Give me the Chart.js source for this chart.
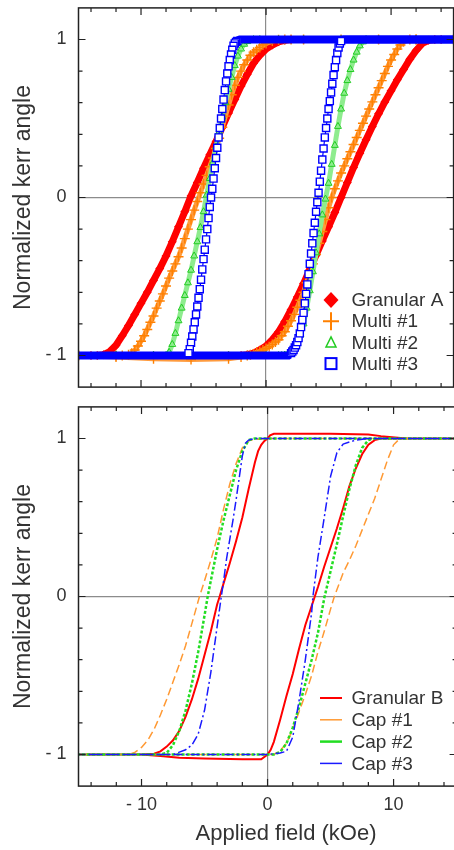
<!DOCTYPE html>
<html><head><meta charset="utf-8">
<script src="https://cdn.jsdelivr.net/npm/chart.js@4.4.1/dist/chart.umd.min.js"></script>
<style>
html,body{margin:0;padding:0;background:#fff;overflow:hidden;}
#wrap{position:relative;width:454px;height:850px;overflow:hidden;background:#fff;}
canvas{position:absolute;left:0;}
#c1{top:0;} #c2{top:396px;}
</style></head><body>
<div id="wrap"><canvas id="c1" width="460" height="396"></canvas><canvas id="c2" width="460" height="454"></canvas></div>
<script>
// ---------- Top panel data (applied field kOe, normalized kerr angle) ----------
const topLabels = ['Granular A', 'Multi #1', 'Multi #2', 'Multi #3'];
const granA_downH = [15,12,9,6,3,2,1.5,1,0.5,0,-0.5,-1,-1.5,-2,-2.5,-3,-3.5,-4,-4.5,-5,-5.5,-6,-6.5,-7,-7.5,-8,-8.5,-9,-9.5,-10,-10.5,-11,-11.5,-12,-12.5,-13,-13.5,-14,-15];
const granA_downM = [1,1,1,1,1,1.0,0.995,0.985,0.965,0.94,0.9,0.85,0.78,0.705,0.62,0.535,0.445,0.355,0.27,0.185,0.095,0.01,-0.09,-0.185,-0.28,-0.37,-0.45,-0.525,-0.6,-0.67,-0.74,-0.81,-0.875,-0.935,-0.975,-0.995,-1.0,-1,-1];
const granA_upH = [-15,-12,-9,-6,-3,-2,-1.5,-1,-0.5,0,0.5,1,1.5,2,2.5,3,3.5,4,4.5,5,5.5,6,6.5,7,7.5,8,8.5,9,9.5,10,10.5,11,11.5,12,12.5,13,13.5,14,15];
const granA_upM = [-1,-1,-1,-1,-1,-1.0,-0.995,-0.985,-0.965,-0.94,-0.9,-0.85,-0.785,-0.71,-0.63,-0.545,-0.455,-0.365,-0.275,-0.185,-0.095,0.0,0.095,0.19,0.28,0.365,0.45,0.53,0.605,0.675,0.745,0.81,0.875,0.93,0.975,0.995,1.0,1,1];

const multi1_downH = [15,12,9,6,3,2,1.5,1,0.5,0,-0.25,-0.5,-0.75,-1,-1.25,-1.5,-1.75,-2,-2.25,-2.5,-2.75,-3,-3.25,-3.5,-3.75,-4,-4.25,-4.5,-4.75,-5,-5.25,-5.5,-5.75,-6,-6.25,-6.5,-6.75,-7,-7.25,-7.5,-7.75,-8,-8.25,-8.5,-8.75,-9,-9.25,-9.5,-9.75,-10,-10.25,-10.5,-10.75,-11,-11.5,-12,-15];
const multi1_downM = [1,1,1,1,1,1,1.0,0.998,0.99,0.975,0.965,0.95,0.935,0.92,0.9,0.87,0.84,0.80,0.76,0.71,0.65,0.585,0.515,0.445,0.375,0.31,0.25,0.195,0.14,0.085,0.03,-0.025,-0.08,-0.14,-0.2,-0.26,-0.32,-0.375,-0.42,-0.465,-0.51,-0.56,-0.61,-0.655,-0.70,-0.75,-0.79,-0.835,-0.875,-0.91,-0.94,-0.965,-0.985,-0.995,-1,-1,-1];
const multi1_upH = [-15,-12,-9,-6,-3,-2,-1.5,-1.25,-1,-0.75,-0.5,-0.25,0,0.25,0.5,0.75,1,1.25,1.5,1.75,2,2.25,2.5,2.75,3,3.25,3.5,3.75,4,4.25,4.5,4.75,5,5.25,5.5,5.75,6,6.25,6.5,6.75,7,7.25,7.5,7.75,8,8.25,8.5,8.75,9,9.25,9.5,9.75,10,10.25,10.5,10.75,11,11.5,12,15];
const multi1_upM = [-1.0,-1.01,-1.02,-1.025,-1.02,-1.01,-1.0,-0.995,-0.99,-0.98,-0.975,-0.965,-0.955,-0.945,-0.93,-0.915,-0.9,-0.875,-0.85,-0.815,-0.78,-0.74,-0.695,-0.65,-0.6,-0.54,-0.48,-0.42,-0.36,-0.29,-0.215,-0.14,-0.065,0.0,0.055,0.105,0.155,0.2,0.245,0.29,0.335,0.38,0.425,0.47,0.515,0.56,0.605,0.65,0.695,0.74,0.785,0.83,0.87,0.905,0.94,0.965,0.985,1,1,1];

const multi2_downH = [15,12,9,6,3,1,-0.5,-1,-1.25,-1.5,-1.75,-2,-2.25,-2.5,-2.75,-3,-3.25,-3.5,-3.75,-4,-4.25,-4.5,-4.75,-5,-5.25,-5.5,-5.75,-6,-6.25,-6.5,-6.75,-7,-7.25,-7.5,-7.75,-8,-9,-12,-15];
const multi2_downM = [1,1,1,1,1,1,1,1.0,0.995,0.987,0.97,0.94,0.895,0.835,0.76,0.685,0.60,0.51,0.415,0.32,0.22,0.12,0.015,-0.09,-0.19,-0.28,-0.37,-0.46,-0.54,-0.62,-0.70,-0.78,-0.86,-0.93,-0.98,-1.0,-1,-1,-1];
const multi2_upH = [-15,-12,-9,-6,-3,0,1,1.25,1.5,1.75,2,2.25,2.5,2.75,3,3.25,3.5,3.75,4,4.25,4.5,4.75,5,5.25,5.5,5.75,6,6.25,6.5,6.75,7,7.25,7.5,7.75,8,9,12,15];
const multi2_upM = [-1,-1,-1,-1,-1,-1,-1,-1.0,-0.997,-0.99,-0.98,-0.96,-0.925,-0.87,-0.80,-0.70,-0.59,-0.47,-0.35,-0.23,-0.11,-0.01,0.09,0.21,0.33,0.45,0.56,0.66,0.74,0.81,0.87,0.92,0.96,0.985,1.0,1,1,1];

const multi3_downH = [15,12,9,6,3,0,-1,-2,-2.1,-2.2,-2.3,-2.4,-2.5,-2.6,-2.7,-2.8,-2.9,-3,-3.1,-3.2,-3.3,-3.4,-3.5,-3.6,-3.7,-3.8,-3.9,-4,-4.1,-4.2,-4.3,-4.4,-4.5,-4.6,-4.7,-4.8,-4.9,-5,-5.1,-5.2,-5.3,-5.4,-5.5,-5.6,-5.7,-5.8,-5.9,-6,-6.1,-6.2,-6.3,-6.4,-6.6,-8,-10,-12,-15];
const multi3_downM = [1,1,1,1,1,1,1,1,1.0,0.997,0.99,0.985,0.975,0.96,0.935,0.905,0.87,0.83,0.785,0.735,0.68,0.62,0.56,0.50,0.44,0.38,0.315,0.25,0.185,0.12,0.055,0.0,-0.06,-0.13,-0.20,-0.265,-0.33,-0.39,-0.455,-0.52,-0.58,-0.635,-0.69,-0.74,-0.79,-0.835,-0.88,-0.92,-0.96,-0.985,-0.995,-1.0,-1,-1,-1,-1,-1];
const multi3_upH = [-15,-12,-9,-6,-3,0,1,1.8,1.9,2,2.1,2.2,2.3,2.4,2.5,2.6,2.7,2.8,2.9,3,3.1,3.2,3.3,3.4,3.5,3.6,3.7,3.8,3.9,4,4.1,4.2,4.3,4.4,4.5,4.6,4.7,4.8,4.9,5,5.1,5.2,5.3,5.4,5.5,5.6,5.7,5.8,5.9,6,6.1,6.2,6.4,8,10,12,15];
const multi3_upM = [-1,-1,-1,-1,-1,-1,-1,-1,-0.995,-0.985,-0.975,-0.965,-0.95,-0.935,-0.915,-0.89,-0.86,-0.82,-0.775,-0.73,-0.67,-0.61,-0.55,-0.485,-0.42,-0.355,-0.29,-0.225,-0.16,-0.09,-0.03,0.03,0.10,0.17,0.24,0.31,0.38,0.44,0.50,0.56,0.61,0.665,0.72,0.775,0.825,0.87,0.915,0.95,0.975,0.99,0.997,1.0,1,1,1,1,1];

// ---------- Bottom panel data ----------
const bottomLabels = ['Granular B', 'Cap #1', 'Cap #2', 'Cap #3'];
const granB_downH = [15,11,9,8,5,2,0.5,0.2,0,-0.25,-0.5,-0.75,-1,-1.5,-2,-2.5,-3,-3.5,-3.8,-4,-4.5,-5,-5.5,-6,-6.5,-7,-7.5,-8,-8.5,-9,-10,-15];
const granB_downM = [1.0,1.0,1.015,1.025,1.03,1.03,1.03,1.02,1.0,0.985,0.96,0.92,0.85,0.68,0.5,0.35,0.21,0.08,0.0,-0.05,-0.22,-0.37,-0.52,-0.65,-0.76,-0.85,-0.91,-0.95,-0.98,-0.995,-1.0,-1.0];
const granB_upH = [-15,-10,-8.5,-7,-5,-2,-0.5,0,0.25,0.5,1,1.5,2,2.5,3,3.5,3.75,4,4.5,5,5.5,6,6.5,7,7.5,8,8.5,9,15];
const granB_upM = [-1.0,-1.0,-1.01,-1.02,-1.025,-1.03,-1.03,-1.0,-0.97,-0.92,-0.78,-0.63,-0.49,-0.33,-0.18,-0.06,0.0,0.06,0.19,0.31,0.43,0.56,0.7,0.81,0.9,0.96,0.99,1.0,1.0];

const cap1_downH = [15,5,0,-1,-1.5,-2,-2.5,-3,-3.5,-4,-4.5,-5,-5.4,-6,-6.5,-7,-7.5,-8,-8.5,-9,-9.5,-10,-10.5,-11,-15];
const cap1_downM = [1,1,1.0,0.995,0.985,0.94,0.84,0.71,0.55,0.37,0.23,0.1,0,-0.17,-0.31,-0.43,-0.54,-0.65,-0.75,-0.84,-0.91,-0.955,-0.985,-1.0,-1.0];
const cap1_upH = [-15,0,0.5,1,1.5,2,2.5,3,3.5,4,4.5,5,5.3,6,6.5,7,7.5,8,8.5,9,9.5,10,10.5,15];
const cap1_upM = [-1,-1,-1.0,-0.975,-0.93,-0.84,-0.73,-0.62,-0.5,-0.35,-0.22,-0.08,0,0.15,0.23,0.32,0.42,0.52,0.62,0.74,0.86,0.96,1.0,1];

const cap2_downH = [15,-1,-1.5,-2,-2.5,-3,-3.5,-4,-4.5,-4.75,-5,-5.5,-6,-6.5,-7,-7.5,-8,-8.5,-15];
const cap2_downM = [1,1.0,0.99,0.92,0.8,0.64,0.48,0.3,0.1,0,-0.12,-0.35,-0.55,-0.72,-0.85,-0.94,-0.99,-1.0,-1];
const cap2_upH = [-15,0.5,1,1.5,2,2.5,3,3.5,4,4.5,5,5.5,6,6.5,7,7.5,8,8.5,15];
const cap2_upM = [-1,-1.0,-0.985,-0.93,-0.83,-0.7,-0.55,-0.4,-0.23,-0.01,0.16,0.33,0.51,0.68,0.83,0.94,0.99,1.0,1];

const cap3_downH = [15,-1,-1.5,-1.75,-2,-2.25,-2.5,-2.75,-3,-3.25,-3.5,-3.67,-4,-4.5,-5,-5.5,-6,-6.5,-7,-7.5,-15];
const cap3_downM = [1,1.0,0.99,0.97,0.89,0.75,0.61,0.48,0.36,0.24,0.09,0,-0.19,-0.48,-0.72,-0.87,-0.94,-0.97,-0.985,-1.0,-1];
const cap3_upH = [-15,0,1,1.5,2,2.5,3,3.5,3.6,4,4.5,5,5.5,6,7,8,15];
const cap3_upM = [-1,-1.0,-0.99,-0.98,-0.89,-0.66,-0.4,-0.1,0,0.25,0.5,0.76,0.91,0.965,0.99,1.0,1];

// ---------- Axis ticks ----------
const xTickValues = [-10, 0, 10];
const yTickValues = [-1, 0, 1];
const xMinorTicks = [-14,-12,-10,-8,-6,-4,-2,0,2,4,6,8,10,12,14];
const yMinorTicks = [-1,-0.8,-0.6,-0.4,-0.2,0,0.2,0.4,0.6,0.8,1];
const xMajorTicks = [-10, 0, 10];
const yMajorTicks = [-1, 0, 1];
const yTitle = 'Normalized kerr angle';
const xTitle = 'Applied field (kOe)';

const FONT = "'Liberation Sans', Arial, Helvetica, sans-serif";
const TXT = '#333';

function pts(H, M) { return H.map((h, i) => ({x: h, y: M[i]})); }
function loop(dH, dM, uH, uM) { return pts(dH, dM).concat(pts(uH, uM)); }
function fmt(v) { return v < 0 ? '- ' + Math.abs(v) : String(v); }

function makeScales(showX, xHeight) {
  const gridColor = c => (c.tick && c.tick.value === 0) ? '#8c8c8c' : 'rgba(0,0,0,0)';
  return {
    x: {
      type: 'linear', min: -15, max: 15,
      afterBuildTicks: s => { s.ticks = xTickValues.map(v => ({value: v})); },
      afterFit: s => { s.height = xHeight; s.paddingLeft = 0; s.paddingRight = 0; s.paddingTop = 0; s.paddingBottom = 0; },
      ticks: {display: showX, color: TXT, font: {family: FONT, size: 18}, padding: 8,
              maxRotation: 0, autoSkip: false, callback: v => fmt(v)},
      grid: {drawTicks: false, color: gridColor, lineWidth: 1.2},
      border: {display: false}
    },
    y: {
      type: 'linear', min: -1.2, max: 1.2,
      afterBuildTicks: s => { s.ticks = yTickValues.map(v => ({value: v})); },
      afterFit: s => { s.width = 78.5; s.paddingTop = 0; s.paddingBottom = 0; s.paddingLeft = 0; s.paddingRight = 0; },
      ticks: {color: TXT, font: {family: FONT, size: 18}, padding: 12, callback: v => fmt(v)},
      grid: {drawTicks: false, color: gridColor, lineWidth: 1.2},
      border: {display: false},
      title: {display: true, text: yTitle, color: TXT, font: {family: FONT, size: 23},
              padding: {top: 10, bottom: 0}}
    }
  };
}

const framePlugin = {
  id: 'frameTicks',
  afterDatasetsDraw(chart) {
    const {ctx, chartArea: a, scales: {x, y}} = chart;
    ctx.save();
    ctx.strokeStyle = '#222';
    ctx.lineWidth = 1.5;
    ctx.strokeRect(a.left, a.top, a.right - a.left, a.bottom - a.top);
    ctx.lineWidth = 1.2;
    ctx.beginPath();
    xMinorTicks.forEach(v => {
      const px = x.getPixelForValue(v);
      const L = xMajorTicks.includes(v) ? 7 : 4;
      ctx.moveTo(px, a.top); ctx.lineTo(px, a.top + L);
      ctx.moveTo(px, a.bottom); ctx.lineTo(px, a.bottom - L);
    });
    yMinorTicks.forEach(v => {
      const py = y.getPixelForValue(v);
      const L = yMajorTicks.includes(v) ? 7 : 4;
      ctx.moveTo(a.left, py); ctx.lineTo(a.left + L, py);
      ctx.moveTo(a.right, py); ctx.lineTo(a.right - L, py);
    });
    ctx.stroke();
    ctx.restore();
  }
};

function drawMarker(ctx, kind, x, y, color) {
  ctx.save();
  ctx.strokeStyle = color; ctx.fillStyle = color;
  ctx.beginPath();
  if (kind === 'diamond') {
    ctx.moveTo(x, y - 8); ctx.lineTo(x + 7.5, y); ctx.lineTo(x, y + 8); ctx.lineTo(x - 7.5, y); ctx.closePath();
    ctx.fill();
  } else if (kind === 'cross') {
    ctx.lineWidth = 2;
    ctx.moveTo(x - 8, y); ctx.lineTo(x + 8, y); ctx.moveTo(x, y - 9); ctx.lineTo(x, y + 9);
    ctx.stroke();
  } else if (kind === 'triangle') {
    ctx.lineWidth = 1.5;
    ctx.moveTo(x, y - 5.5); ctx.lineTo(x + 5, y + 4.5); ctx.lineTo(x - 5, y + 4.5); ctx.closePath();
    ctx.stroke();
  } else if (kind === 'square') {
    ctx.lineWidth = 2;
    ctx.strokeRect(x - 5.5, y - 5.5, 11, 11);
  }
  ctx.restore();
}

const topLegendPlugin = {
  id: 'topLegend',
  afterDraw(chart) {
    const ctx = chart.ctx;
    const kinds = ['diamond', 'cross', 'triangle', 'square'];
    chart.data.datasets.forEach((ds, i) => {
      const y = 300 + i * 21.2;
      drawMarker(ctx, kinds[i], 331, y, ds.pointBorderColor);
      ctx.save();
      ctx.fillStyle = TXT; ctx.font = '19px ' + FONT;
      ctx.textAlign = 'left'; ctx.textBaseline = 'middle';
      ctx.fillText(ds.label, 351.5, y + 1);
      ctx.restore();
    });
  }
};

const bottomLegendPlugin = {
  id: 'bottomLegend',
  afterDraw(chart) {
    const ctx = chart.ctx;
    chart.data.datasets.forEach((ds, i) => {
      const y = 302 + i * 21.8;
      ctx.save();
      ctx.strokeStyle = ds.borderColor; ctx.lineWidth = ds.borderWidth;
      ctx.beginPath(); ctx.moveTo(320, y); ctx.lineTo(342, y); ctx.stroke();
      ctx.fillStyle = TXT; ctx.font = '19px ' + FONT;
      ctx.textAlign = 'left'; ctx.textBaseline = 'middle';
      ctx.fillText(ds.label, 351.5, y + 1);
      ctx.restore();
    });
    ctx.save();
    ctx.fillStyle = TXT; ctx.font = '22px ' + FONT;
    ctx.textAlign = 'center'; ctx.textBaseline = 'middle';
    ctx.fillText(xTitle, 286, 438);
    ctx.restore();
  }
};

const commonOpts = {
  responsive: false, animation: false, devicePixelRatio: 1,
  plugins: {legend: {display: false}, tooltip: {enabled: false}}
};

new Chart(document.getElementById('c1'), {
  type: 'scatter',
  data: {datasets: [
    {label: topLabels[0], data: loop(granA_downH, granA_downM, granA_upH, granA_upM),
     showLine: true, borderColor: '#ff0000', borderWidth: 7,
     pointStyle: 'rectRot', pointRadius: 4.5, pointBackgroundColor: '#ff0000', pointBorderColor: '#ff0000', pointBorderWidth: 0, order: 4},
    {label: topLabels[1], data: loop(multi1_downH, multi1_downM, multi1_upH, multi1_upM),
     showLine: true, borderColor: '#ff9b3d', borderWidth: 5,
     pointStyle: 'cross', pointRadius: 5, pointBorderColor: '#ff8000', pointBackgroundColor: '#ff8000', pointBorderWidth: 1.4, order: 3},
    {label: topLabels[2], data: loop(multi2_downH, multi2_downM, multi2_upH, multi2_upM),
     showLine: true, borderColor: '#8eec8e', borderWidth: 5,
     pointStyle: 'triangle', pointRadius: 4, pointBorderColor: '#22cc22', pointBackgroundColor: 'rgba(255,255,255,0)', pointBorderWidth: 1, order: 2},
    {label: topLabels[3], data: loop(multi3_downH, multi3_downM, multi3_upH, multi3_upM),
     showLine: true, borderColor: '#0000ff', borderWidth: 1.2,
     segment: {borderWidth: c => (Math.abs(c.p0.parsed.y) >= 0.99 && Math.abs(c.p1.parsed.y) >= 0.99) ? 8 : 1.2},
     pointStyle: 'rect', pointRadius: c => (c.raw && Math.abs(c.raw.y) < 0.995) ? 5 : 0,
     pointBorderColor: '#0000ff', pointBackgroundColor: '#ffffff', pointBorderWidth: 1.4, order: 1}
  ]},
  options: Object.assign({}, commonOpts, {
    layout: {padding: {top: 7.9, right: 3.4, left: 0, bottom: 0}},
    scales: makeScales(false, 8.9)
  }),
  plugins: [framePlugin, topLegendPlugin]
});

new Chart(document.getElementById('c2'), {
  type: 'scatter',
  data: {datasets: [
    {label: bottomLabels[0], data: loop(granB_downH, granB_downM, granB_upH, granB_upM),
     showLine: true, borderColor: '#ff0000', borderWidth: 2, pointRadius: 0, order: 4},
    {label: bottomLabels[1], data: loop(cap1_downH, cap1_downM, cap1_upH, cap1_upM),
     showLine: true, borderColor: '#ff9933', borderWidth: 1.5, borderDash: [8, 4], pointRadius: 0, order: 3},
    {label: bottomLabels[2], data: loop(cap2_downH, cap2_downM, cap2_upH, cap2_upM),
     showLine: true, borderColor: '#22dd22', borderWidth: 2.5, borderDash: [3, 2], pointRadius: 0, order: 2},
    {label: bottomLabels[3], data: loop(cap3_downH, cap3_downM, cap3_upH, cap3_upM),
     showLine: true, borderColor: '#1a1aff', borderWidth: 1.5, borderDash: [9, 3, 2, 3], pointRadius: 0, order: 1}
  ]},
  options: Object.assign({}, commonOpts, {
    layout: {padding: {top: 10.9, right: 3.4, left: 0, bottom: 0}},
    scales: makeScales(true, 63.9)
  }),
  plugins: [framePlugin, bottomLegendPlugin]
});
</script>
</body></html>
